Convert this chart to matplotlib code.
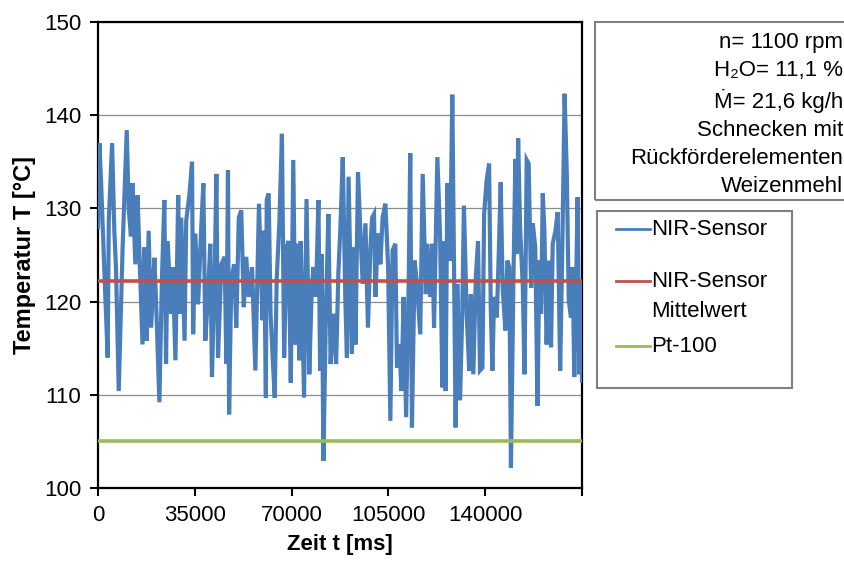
import numpy as np
import matplotlib.pyplot as plt
from matplotlib.lines import Line2D
from matplotlib.patches import Rectangle

plt.rcParams['font.family'] = ['Liberation Sans', 'DejaVu Sans']

zeit = [0, 500, 1100, 2300, 3500, 3900, 5100, 5900, 6500, 7500, 8900, 10400, 11100, 11900,
        12500, 13500, 14300, 14900, 16100, 16700, 17600, 18300, 19200, 20400, 21000, 22200,
        23100, 24000, 24600, 25200, 26400, 27000, 28000, 29000, 29500, 30100, 31300, 31900,
        33100, 34000, 34400, 35200, 36200, 37400, 38100, 38800, 39800, 40600, 41200, 42200,
        42800, 43400, 44600, 45800, 46400, 47000, 47400, 48200, 49200, 50000, 50900, 51800,
        52700, 53600, 54500, 55700, 56900, 58200, 59500, 60000, 60700, 61000, 61700, 62400,
        63200, 63900, 64600, 65600, 66500, 67300, 68200, 68900, 69700, 70600, 71400, 72100,
        72800, 73300, 74500, 75400, 76400, 77300, 77900, 78800, 79700, 80300, 80900, 81500,
        82400, 83300, 84100, 85100, 86100, 86900, 87700, 88500, 89400, 90000, 90600, 91800,
        92400, 93100, 94000, 94900, 95700, 96700, 97600, 98500, 99100, 99800, 100300, 101200,
        102100, 102900, 103900, 104900, 105700, 106500, 107500, 108100, 109000, 109700,
        110500, 111400, 112300, 112900, 113500, 114500, 115300, 116500, 117400, 118500,
        119100, 120100, 120900, 121500, 122700, 123700, 124500, 125100, 125700, 126300,
        127300, 128100, 128700, 129300, 129900, 130900, 131700, 132300, 133300, 134200,
        134800, 135700, 136600, 137400, 138100, 139000, 139600, 140500, 141400, 142000,
        142600, 143200, 144200, 145000, 145600, 146300, 147300, 148000, 148700, 149300,
        150200, 150900, 151400, 151900, 152600, 153600, 154200, 155000, 155700, 156600,
        157200, 158100, 158900, 159600, 160200, 160800, 161400, 162200, 163000, 163800,
        164400, 165400, 166200, 167100, 167800, 168700, 169500, 170200, 171000, 171600,
        172200, 172800, 173400, 174000, 174600, 175000]
nir = [128, 137, 133, 123.3, 114, 128.7, 137, 127.6, 123.7, 110.4, 125.8, 138.4, 130, 127,
       132.7, 124, 131.4, 125.8, 115.4, 125.8, 115.8, 127.6, 117.2, 124.7, 120, 109.2,
       122.3, 130.9, 113.3, 126.5, 118.7, 123.7, 113.7, 131.4, 118.7, 129, 115.8, 128.7,
       131.6, 135, 116.5, 127.3, 119.7, 128.4, 132.7, 115.8, 120.8, 126.2, 111.9, 123,
       133.7, 114, 124, 124.8, 113.3, 134.1, 107.9, 122.3, 124, 117.2, 129, 129.8,
       119.4, 124.8, 120.5, 123.7, 112.6, 130.5, 118, 127.6, 109.7, 130.9, 131.6, 118.7,
       113.7, 109.7, 122.3, 128.7, 138, 114, 125.8, 126.5, 111.3, 135.2, 115.4, 126.2,
       113.7, 126.5, 109.7, 131, 112.2, 121.5, 123.7, 120.5, 130.9, 112.6, 125.1, 102.9,
       118.7, 129.4, 113.3, 118.7, 113.3, 123, 128.4, 135.5, 120.5, 114, 133.4, 114.4,
       125.8, 115.4, 133.9, 127.3, 121.9, 128.4, 117.2, 125.8, 129, 129.4, 120.5, 127.3,
       124, 129, 130.5, 123.7, 107.2, 125.5, 126.2, 112.9, 115.4, 110.4,
       120.5, 107.6, 121.5, 135.9, 106.5, 124.4, 121.9, 116.5, 133.7, 120.8,
       126.2, 120.5, 126.2, 117.2, 135.5, 126.9, 110.8, 126.5, 110.4, 132.7,
       124.4, 142.2, 124.4, 106.5, 121.9, 109.4, 118.7, 130.3, 118.7, 112.6,
       120.8, 112.2, 122.6, 126.5, 112.6, 112.9, 129.4, 133, 134.8, 119.4,
       112.6, 120.5, 118.3, 126.2, 132.8, 121.5, 116.9, 124.4, 123.7, 102.2,
       122.3, 135.3, 125.1, 137.5, 128, 121.5, 112.2, 135.2, 134.8, 121.5,
       128.4, 125.8, 108.8, 124.4, 118.7, 131.6, 127.6, 115.4, 124.4, 115.1,
       126.2, 127.6, 129.6, 112.6, 124.4, 142.3, 133.7, 120.1, 118.3, 123.7,
       111.9, 120.5, 131.2, 112.2, 122.3, 111.5]
mittelwert = 122.2
pt100 = 105.0

x_ticks = [0, 35000, 70000, 105000, 140000, 175000]
x_ticklabels = ['0', '35000', '70000', '105000', '140000', '']
y_ticks = [100, 110, 120, 130, 140, 150]

info_lines = ['n= 1100 rpm', 'H\u2082O= 11,1 %', '\u1e40= 21,6 kg/h',
              'Schnecken mit', 'R\u00fcckf\u00f6rderelementen', 'Weizenmehl']
legend_labels = ['NIR-Sensor', 'NIR-Sensor\nMittelwert', 'Pt-100']
farben = ['#4a7ebb', '#c0504d', '#9bbb59']

fig = plt.figure(figsize=(8.44, 5.62), dpi=100)
ax = fig.add_axes([0.1161, 0.1317, 0.5735, 0.8292])

ax.plot(zeit, nir, color=farben[0], lw=3, zorder=3, solid_joinstyle='miter')
ax.axhline(mittelwert, color=farben[1], lw=2.6, zorder=4)
ax.axhline(pt100, color=farben[2], lw=2.6, zorder=4)

ax.set_xlim(0, 175000)
ax.set_ylim(100, 150)
ax.set_xticks(x_ticks)
ax.set_xticklabels(x_ticklabels)
ax.set_yticks(y_ticks)
ax.yaxis.grid(True, color='#8c8c8c', lw=0.9)
ax.set_axisbelow(True)
for s in ax.spines.values():
    s.set_linewidth(1.6)
    s.set_color('black')
ax.tick_params(axis='both', direction='out', length=6, width=1.5, labelsize=16, pad=6)
ax.tick_params(axis='y', pad=6)

ax.set_xlabel('Zeit t [ms]', fontsize=16, fontweight='bold', labelpad=6)
ax.set_ylabel('Temperatur T [°C]', fontsize=17, fontweight='bold', labelpad=6)

# Infobox rechts oben
fig.add_artist(Rectangle((595 / 844, 1 - 200 / 562), 260 / 844, 178 / 562,
                         transform=fig.transFigure, fill=False, ec='#808080', lw=1.5))
fig.text(843 / 844, 1 - 32 / 562, '\n'.join(info_lines), ha='right', va='top',
         fontsize=16, linespacing=1.43)

# Legende (Linie jeweils auf Hoehe der ersten Textzeile)
fig.add_artist(Rectangle((597 / 844, 1 - 388 / 562), 195 / 844, 177 / 562,
                         transform=fig.transFigure, fill=False, ec='#808080', lw=1.5))
linie_y = [229, 281, 346]
text_y = [229, 296.5, 346]
for lab, col, ly, ty in zip(legend_labels, farben, linie_y, text_y):
    fig.add_artist(Line2D([616 / 844, 650 / 844], [1 - ly / 562, 1 - ly / 562],
                          transform=fig.transFigure, color=col, lw=2))
    fig.text(651 / 844, 1 - ty / 562, lab, ha='left', va='center', fontsize=16,
             linespacing=1.6)

fig.savefig('out.png', dpi=100)
